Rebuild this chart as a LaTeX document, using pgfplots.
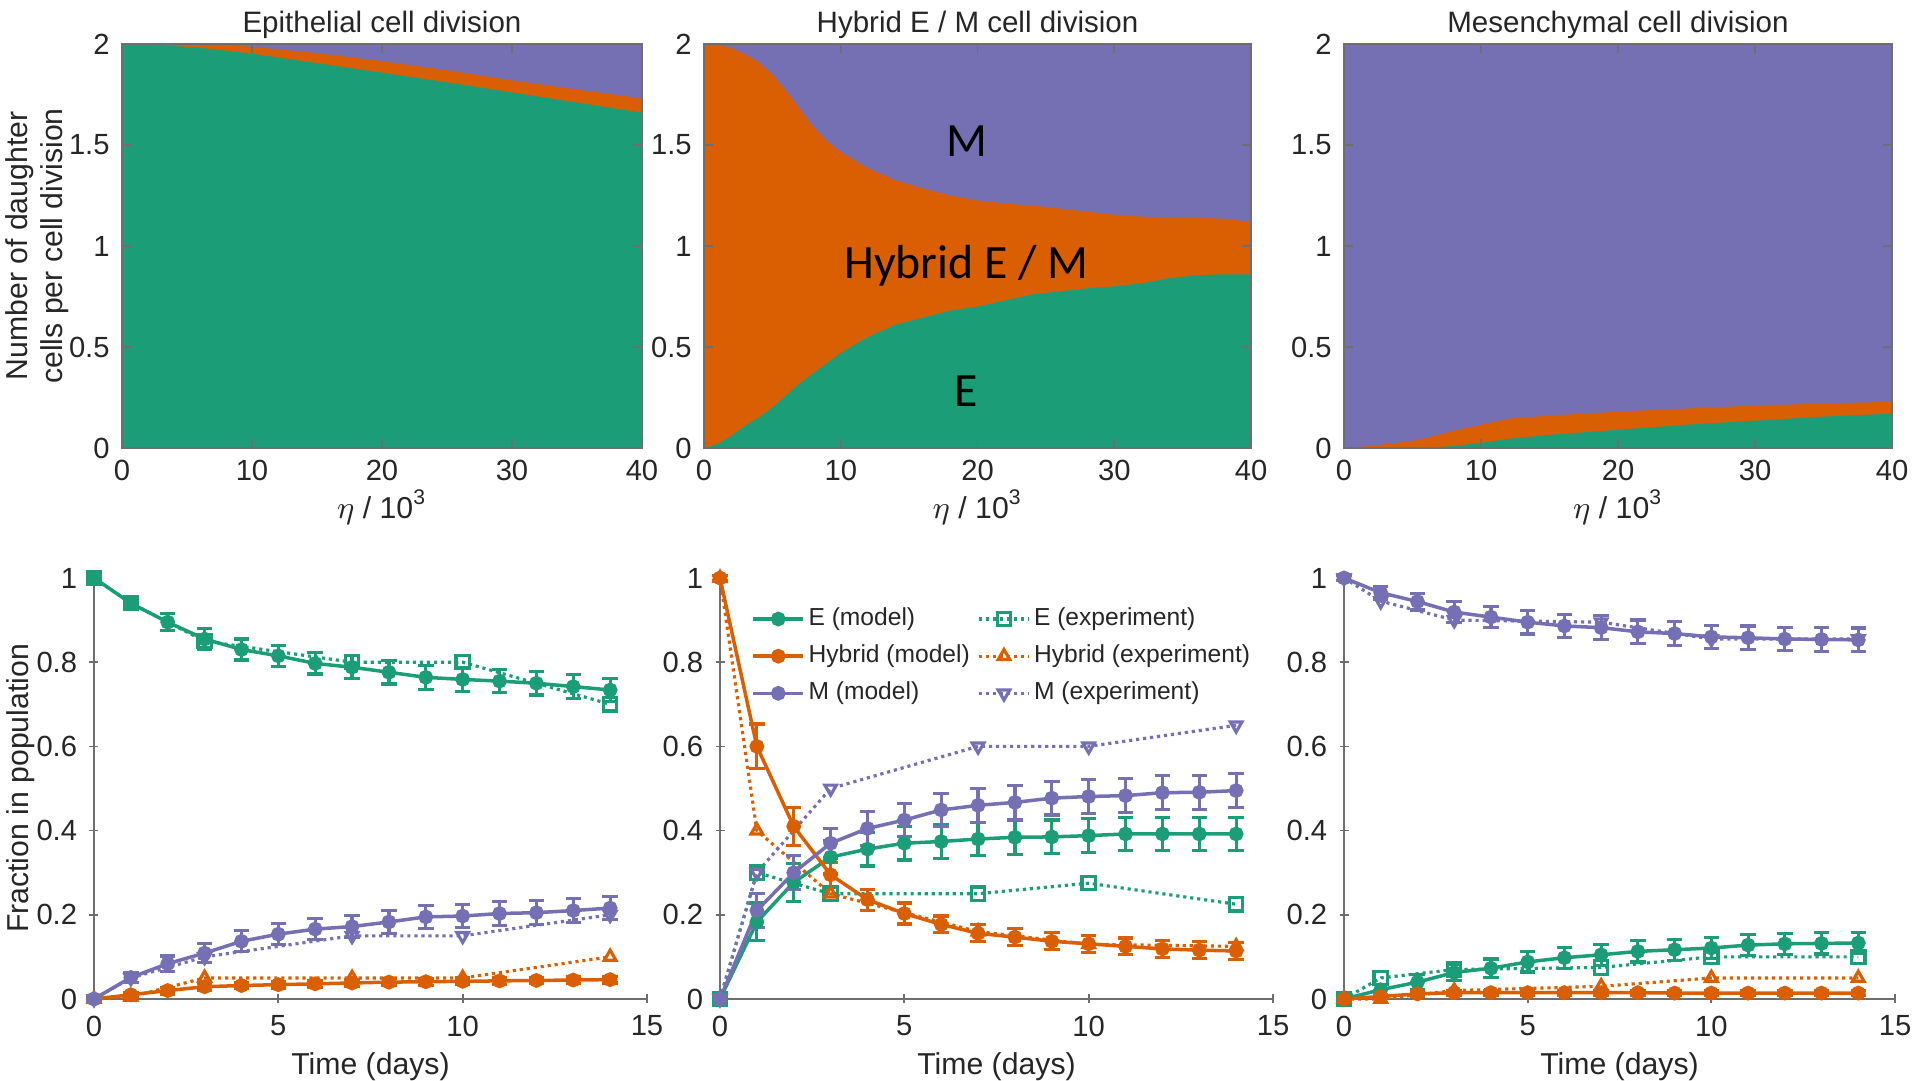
\documentclass[border=0pt]{standalone}
\usepackage{fontspec}
\setmainfont{Liberation Sans}
\newfontfamily\calibri{Carlito}
\usepackage{pgfplots}
\usepackage{pgfplotstable}
\pgfplotsset{compat=1.18}
\definecolor{cg}{RGB}{27,158,119}
\definecolor{co}{RGB}{217,95,2}
\definecolor{cp}{RGB}{117,112,179}
\definecolor{axc}{RGB}{110,110,110}
\definecolor{txc}{RGB}{38,38,38}

% ---------- top row data ----------
\pgfplotstableread{
x y
0 2
2 2.0
4 1.99
6 1.98
8 1.967
10 1.952
15 1.905
20 1.858
25 1.81
30 1.76
35 1.71
40 1.66
}\tlE
\pgfplotstableread{
x y
0 2
5 2.0
8 1.995
10 1.986
15 1.955
20 1.915
25 1.87
30 1.82
35 1.775
40 1.73
}\tlEH
\pgfplotstableread{
x y
0 0
1 0.02
2 0.06
3 0.11
4 0.15
5 0.20
6 0.26
7 0.32
8 0.37
9 0.42
10 0.47
12 0.55
14 0.61
16 0.645
18 0.68
20 0.70
22 0.73
24 0.76
26 0.775
28 0.79
30 0.80
32 0.815
34 0.84
36 0.855
38 0.86
40 0.86
}\tmE
\pgfplotstableread{
x y
0 2
1 1.995
2 1.98
3 1.95
4 1.91
5 1.85
6 1.77
7 1.68
8 1.59
9 1.52
10 1.465
12 1.385
14 1.325
16 1.285
18 1.25
20 1.225
22 1.21
24 1.20
26 1.185
28 1.17
30 1.155
32 1.145
34 1.14
36 1.14
38 1.135
40 1.12
}\tmEH
\pgfplotstableread{
x y
0 0
5 0
7 0.005
8 0.01
10 0.025
12 0.045
15 0.065
20 0.09
25 0.115
30 0.135
35 0.155
40 0.17
}\trE
\pgfplotstableread{
x y
0 0
2 0.01
5 0.035
6 0.05
8 0.085
10 0.115
12 0.145
15 0.16
20 0.18
25 0.195
30 0.21
35 0.22
38 0.225
40 0.23
}\trEH

% ---------- bottom-left data ----------
\pgfplotstableread{
x y e
0 1.000 0.005
1 0.940 0.015
2 0.895 0.020
3 0.855 0.025
4 0.830 0.025
5 0.815 0.025
6 0.797 0.025
7 0.788 0.027
8 0.776 0.028
9 0.764 0.028
10 0.759 0.028
11 0.755 0.028
12 0.750 0.028
13 0.742 0.028
14 0.734 0.028
}\blEm
\pgfplotstableread{
x y
0 1.0
1 0.94
3 0.85
7 0.80
10 0.80
14 0.70
}\blEx
\pgfplotstableread{
x y e
0 0.000 0.003
1 0.010 0.006
2 0.020 0.008
3 0.029 0.008
4 0.032 0.008
5 0.034 0.008
6 0.036 0.008
7 0.038 0.008
8 0.040 0.008
9 0.041 0.008
10 0.042 0.008
11 0.043 0.008
12 0.044 0.008
13 0.045 0.008
14 0.046 0.008
}\blHm
\pgfplotstableread{
x y
0 0
1 0.005
3 0.05
7 0.05
10 0.05
14 0.10
}\blHx
\pgfplotstableread{
x y e
0 0.000 0.005
1 0.051 0.012
2 0.084 0.018
3 0.109 0.022
4 0.137 0.025
5 0.154 0.025
6 0.166 0.025
7 0.172 0.026
8 0.183 0.027
9 0.195 0.027
10 0.197 0.028
11 0.203 0.028
12 0.205 0.028
13 0.210 0.028
14 0.216 0.028
}\blMm
\pgfplotstableread{
x y
0 0
1 0.05
3 0.10
7 0.15
10 0.15
14 0.20
}\blMx

% ---------- bottom-middle data ----------
\pgfplotstableread{
x y e
0 0.000 0.005
1 0.183 0.045
2 0.277 0.045
3 0.337 0.040
4 0.356 0.040
5 0.370 0.040
6 0.374 0.040
7 0.380 0.040
8 0.384 0.040
9 0.385 0.040
10 0.388 0.040
11 0.392 0.040
12 0.392 0.040
13 0.392 0.040
14 0.392 0.040
}\bmEm
\pgfplotstableread{
x y
0 0
1 0.30
3 0.25
7 0.25
10 0.275
14 0.225
}\bmEx
\pgfplotstableread{
x y e
0 1.000 0.005
1 0.600 0.053
2 0.410 0.045
3 0.295 0.030
4 0.236 0.025
5 0.203 0.025
6 0.177 0.020
7 0.156 0.020
8 0.147 0.020
9 0.137 0.020
10 0.131 0.020
11 0.125 0.020
12 0.119 0.020
13 0.116 0.020
14 0.114 0.020
}\bmHm
\pgfplotstableread{
x y
0 1.0
1 0.40
3 0.25
7 0.16
10 0.13
14 0.125
}\bmHx
\pgfplotstableread{
x y e
0 0.000 0.005
1 0.210 0.040
2 0.300 0.040
3 0.370 0.035
4 0.405 0.040
5 0.425 0.040
6 0.449 0.040
7 0.460 0.040
8 0.467 0.040
9 0.477 0.040
10 0.481 0.040
11 0.483 0.040
12 0.490 0.040
13 0.491 0.040
14 0.495 0.040
}\bmMm
\pgfplotstableread{
x y
0 0
1 0.30
3 0.50
7 0.60
10 0.60
14 0.65
}\bmMx

% ---------- bottom-right data ----------
\pgfplotstableread{
x y e
0 1.000 0.005
1 0.965 0.015
2 0.944 0.020
3 0.919 0.025
4 0.907 0.025
5 0.895 0.028
6 0.886 0.028
7 0.882 0.028
8 0.872 0.028
9 0.868 0.028
10 0.860 0.028
11 0.858 0.028
12 0.855 0.028
13 0.854 0.028
14 0.853 0.028
}\brMm
\pgfplotstableread{
x y
0 1.0
1 0.945
3 0.90
7 0.895
10 0.855
14 0.855
}\brMx
\pgfplotstableread{
x y e
0 0.000 0.004
1 0.022 0.012
2 0.040 0.018
3 0.063 0.020
4 0.073 0.022
5 0.088 0.024
6 0.098 0.025
7 0.105 0.025
8 0.113 0.025
9 0.117 0.025
10 0.121 0.025
11 0.128 0.025
12 0.131 0.025
13 0.132 0.025
14 0.133 0.025
}\brEm
\pgfplotstableread{
x y
0 0
1 0.05
3 0.07
7 0.075
10 0.10
14 0.10
}\brEx
\pgfplotstableread{
x y e
0 0.000 0.003
1 0.006 0.005
2 0.012 0.006
3 0.015 0.006
4 0.015 0.006
5 0.015 0.006
6 0.015 0.006
7 0.015 0.006
8 0.015 0.006
9 0.014 0.006
10 0.014 0.006
11 0.014 0.006
12 0.014 0.006
13 0.014 0.006
14 0.014 0.006
}\brHm
\pgfplotstableread{
x y
0 0
1 0.0
3 0.02
7 0.03
10 0.05
14 0.05
}\brHx

\pgfplotsset{
  base/.style={scale only axis, anchor=south west,
    /pgf/number format/assume math mode=true,
    tick label style={font=\fontsize{8.3}{9}\selectfont, text=txc},
    label style={font=\fontsize{8.6}{10}\selectfont, text=txc},
    title style={font=\fontsize{8.4}{10}\selectfont, text=txc, yshift=-8pt},
    axis line style={axc, line width=0.5pt}, major tick style={axc, line width=0.5pt},
    tick align=inside, major tick length=0.09cm, minor tick num=0},
  topax/.style={base, height=4.04cm, xmin=0, xmax=40, ymin=0, ymax=2,
    xtick={0,10,20,30,40}, ytick={0,0.5,1,1.5,2}, axis on top,
    xlabel={$\eta$ / 10\textsuperscript{3}}, xlabel style={yshift=0.15cm}},
  botax/.style={base, height=4.21cm, xmin=0, xmax=15, ymin=0, ymax=1,
    xtick={0,5,10,15}, ytick={0,0.2,0.4,0.6,0.8,1},
    axis lines=left, axis line style={-}, clip=false, xlabel={Time (days)},
    xlabel style={yshift=0.085cm}},
  model/.style={solid, line width=1pt, mark=*, mark size=1.6pt,
    mark options={solid},
    error bars/.cd, y dir=both, y explicit,
    error bar style={line width=0.9pt, solid},
    error mark options={line width=0.9pt, mark size=2.2pt, rotate=90}},
  exper/.style={line width=0.9pt, dash pattern=on 0.9pt off 1.1pt,
    mark size=1.9pt, mark options={solid, fill=white}},
  experdown/.style={exper, mark=triangle, mark options={solid, fill=white, rotate=180}},
}

\begin{document}
\begin{tikzpicture}
\useasboundingbox (0,0) rectangle (19.2,10.81);

% ================= TOP ROW =================
\begin{axis}[topax, at={(1.22cm,6.33cm)}, width=5.20cm,
  title={Epithelial cell division},
  ylabel={Number of daughter\\cells per cell division},
  ylabel style={align=center, yshift=-0.24cm}]
  \addplot[fill=cp, draw=none] coordinates {(0,2) (40,2)} \closedcycle;
  \addplot[fill=co, draw=none] table[x=x,y=y] {\tlEH} \closedcycle;
  \addplot[fill=cg, draw=none] table[x=x,y=y] {\tlE} \closedcycle;
\end{axis}

\begin{axis}[topax, at={(7.04cm,6.33cm)}, width=5.47cm,
  title={Hybrid E / M cell division}]
  \addplot[fill=cp, draw=none] coordinates {(0,2) (40,2)} \closedcycle;
  \addplot[fill=co, draw=none] table[x=x,y=y] {\tmEH} \closedcycle;
  \addplot[fill=cg, draw=none] table[x=x,y=y] {\tmE} \closedcycle;
  \node[font=\calibri\fontsize{13.6}{15}\selectfont] at (axis cs:19.2,1.52) {M};
  \node[font=\calibri\fontsize{13.6}{15}\selectfont] at (axis cs:19.2,0.90) {Hybrid E / M};
  \node[font=\calibri\fontsize{13.6}{15}\selectfont] at (axis cs:19.2,0.28) {E};
\end{axis}

\begin{axis}[topax, at={(13.44cm,6.33cm)}, width=5.48cm,
  title={Mesenchymal cell division}]
  \addplot[fill=cp, draw=none] coordinates {(0,2) (40,2)} \closedcycle;
  \addplot[fill=co, draw=none] table[x=x,y=y] {\trEH} \closedcycle;
  \addplot[fill=cg, draw=none] table[x=x,y=y] {\trE} \closedcycle;
\end{axis}

% ================= BOTTOM ROW =================
\begin{axis}[botax, at={(0.94cm,0.82cm)}, width=5.53cm,
  ylabel={Fraction in population}, ylabel style={yshift=-0.22cm}]
  \addplot[color=cg, exper, mark=square] table[x=x,y=y] {\blEx};
  \addplot[color=co, exper, mark=triangle] table[x=x,y=y] {\blHx};
  \addplot[color=cp, experdown] table[x=x,y=y] {\blMx};
  \addplot[color=cg, model] table[x=x,y=y,y error=e] {\blEm};
  \addplot[color=co, model] table[x=x,y=y,y error=e] {\blHm};
  \addplot[color=cp, model] table[x=x,y=y,y error=e] {\blMm};
\end{axis}

\begin{axis}[botax, at={(7.20cm,0.82cm)}, width=5.53cm,
  legend columns=2, legend cell align=left,
  legend image code/.code={\draw[mark repeat=2, mark phase=2] plot coordinates {(0cm,0cm) (0.25cm,0cm) (0.5cm,0cm)};},
  legend style={draw=none, fill=none, at={(axis cs:0.55,0.965)}, anchor=north west,
    font=\fontsize{7.0}{8.5}\selectfont, text=txc, nodes={inner xsep=1pt},
    /tikz/every even column/.append style={column sep=0.04cm}},
  legend entries={E (model), E (experiment), Hybrid (model), Hybrid (experiment), M (model), M (experiment)}]
  \addplot[color=cg, model] table[x=x,y=y,y error=e] {\bmEm};
  \addplot[color=cg, exper, mark=square] table[x=x,y=y] {\bmEx};
  \addplot[color=co, model] table[x=x,y=y,y error=e] {\bmHm};
  \addplot[color=co, exper, mark=triangle] table[x=x,y=y] {\bmHx};
  \addplot[color=cp, model] table[x=x,y=y,y error=e] {\bmMm};
  \addplot[color=cp, experdown] table[x=x,y=y] {\bmMx};
\end{axis}

\begin{axis}[botax, at={(13.44cm,0.82cm)}, width=5.51cm]
  \addplot[color=cg, exper, mark=square] table[x=x,y=y] {\brEx};
  \addplot[color=co, exper, mark=triangle] table[x=x,y=y] {\brHx};
  \addplot[color=cp, experdown] table[x=x,y=y] {\brMx};
  \addplot[color=cg, model] table[x=x,y=y,y error=e] {\brEm};
  \addplot[color=co, model] table[x=x,y=y,y error=e] {\brHm};
  \addplot[color=cp, model] table[x=x,y=y,y error=e] {\brMm};
\end{axis}
\end{tikzpicture}
\end{document}
